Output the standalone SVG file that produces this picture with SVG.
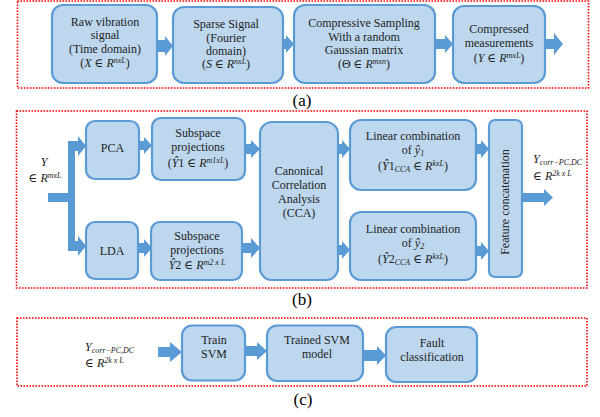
<svg xmlns="http://www.w3.org/2000/svg" width="600" height="417" viewBox="0 0 600 417" font-family="'Liberation Serif', serif">
<defs>
<style>
.panel{fill:none;stroke:#f00;stroke-width:1.6;stroke-dasharray:1.6 1.4}
.box{fill:#bdd7ee;stroke:#5b9bd5;stroke-width:2.2}
.arr{fill:#5b9bd5;stroke:none}
text{font-family:'Liberation Serif','DejaVu Serif',serif;font-size:12px;fill:#222;text-anchor:middle}
.m{font-style:italic}
.s{font-size:8px;font-style:italic}
.lab{font-size:17px;fill:#000}
.l{text-anchor:start}
</style>
</defs>
<rect width="600" height="417" fill="#fff"/>

<g id="panels">
<rect class="panel" x="17.5" y="1" width="571" height="87"/>
<rect class="panel" x="16.5" y="111" width="570.5" height="177"/>
<rect class="panel" x="17" y="318" width="570" height="68"/>
</g>

<g id="connectors">
<polygon class="arr" points="157,40 165,40 165,36 173,46 165,56 165,52 157,52"/>
<polygon class="arr" points="283,39 286,39 286,35 294,44 286,53 286,49 283,49"/>
<polygon class="arr" points="435,39 445,39 445,35 453,44 445,53 445,49 435,49"/>
<polygon class="arr" points="545,39 554,39 554,33 563,44 554,55 554,49 545,49"/>
<polygon class="arr" points="48,193 68,193 68,141 78,141 78,136 86,146 78,156 78,151 75,151 75,241 78,241 78,236 86,246 78,256 78,251 68,251 68,202 48,202"/>
<polygon class="arr" points="139,141 144,141 144,137 152,145.5 144,154 144,150 139,150"/>
<polygon class="arr" points="138,243 144,243 144,239 152,248 144,257 144,253 138,253"/>
<polygon class="arr" points="245,144 251,144 251,140 260,149 251,158 251,154 245,154"/>
<polygon class="arr" points="242,243 251,243 251,238 260,248 251,258 251,253 242,253"/>
<polygon class="arr" points="338,144 342,144 342,140 350,149 342,158 342,154 338,154"/>
<polygon class="arr" points="338,245 342,245 342,241 350,250 342,259 342,255 338,255"/>
<polygon class="arr" points="476,144 481,144 481,140 489,149 481,158 481,154 476,154"/>
<polygon class="arr" points="476,246 481,246 481,242 489,251 481,260 481,256 476,256"/>
<polygon class="arr" points="522,193 544,193 544,189 553,197.5 544,206 544,202 522,202"/>
<polygon class="arr" points="158,347 170,347 170,342 182,352 170,362 170,357 158,357"/>
<polygon class="arr" points="245,346 257,346 257,342 267,351 257,360 257,356 245,356"/>
<polygon class="arr" points="363,350 377,350 377,346 386,355.5 377,365 377,361 363,361"/>
</g>

<g id="raw">
<rect class="box" x="52" y="5" width="105" height="78" rx="11"/>
<text x="105" y="26">Raw vibration</text>
<text x="105" y="39">signal</text>
<text x="105" y="53">(Time domain)</text>
<text x="105" y="67">(<tspan class="m">X</tspan> ∈ <tspan class="m">R</tspan><tspan class="s" dy="-4">nxL</tspan><tspan dy="4">)</tspan></text>
</g>
<g id="sparse">
<rect class="box" x="173" y="7" width="110" height="76" rx="11"/>
<text x="226" y="28">Sparse Signal</text>
<text x="226" y="42">(Fourier</text>
<text x="226" y="55">domain)</text>
<text x="226" y="68">(<tspan class="m">S</tspan> ∈ <tspan class="m">R</tspan><tspan class="s" dy="-4">nxL</tspan><tspan dy="4">)</tspan></text>
</g>
<g id="cs">
<rect class="box" x="294" y="5" width="141" height="78" rx="11"/>
<text x="364" y="27">Compressive Sampling</text>
<text x="364" y="41">With a random</text>
<text x="364" y="54">Gaussian matrix</text>
<text x="364" y="68">(Θ ∈ <tspan class="m">R</tspan><tspan class="s" dy="-4">mxn</tspan><tspan dy="4">)</tspan></text>
</g>
<g id="cm">
<rect class="box" x="453" y="6" width="92" height="77" rx="11"/>
<text x="499" y="33">Compressed</text>
<text x="499" y="47">measurements</text>
<text x="499" y="62">(<tspan class="m">Y</tspan> ∈ <tspan class="m">R</tspan><tspan class="s" dy="-4">mxL</tspan><tspan dy="4">)</tspan></text>
</g>
<text class="lab" x="302" y="106">(a)</text>

<g id="yin">
<text class="m" x="44" y="166">Y</text>
<text x="45" y="182">∈ <tspan class="m">R</tspan><tspan class="s" dy="-4">mxL</tspan></text>
</g>
<g id="pca">
<rect class="box" x="86" y="121" width="53" height="58" rx="9"/>
<text x="112.5" y="152">PCA</text>
</g>
<g id="lda">
<rect class="box" x="86" y="222" width="52" height="57" rx="9"/>
<text x="112" y="255">LDA</text>
</g>
<g id="sub1">
<rect class="box" x="152" y="118" width="93" height="62" rx="9"/>
<text x="198" y="137">Subspace</text>
<text x="198" y="151">projections</text>
<text x="198" y="167">(<tspan class="m">Ŷ</tspan>1 ∈ <tspan class="m">R</tspan><tspan class="s" dy="-4">m1xL</tspan><tspan dy="4">)</tspan></text>
</g>
<g id="sub2">
<rect class="box" x="151" y="222" width="91" height="58" rx="9"/>
<text x="197" y="240">Subspace</text>
<text x="197" y="254">projections</text>
<text x="197" y="269"><tspan class="m">Ŷ</tspan>2 ∈ <tspan class="m">R</tspan><tspan class="s" dy="-4">m2 x L</tspan></text>
</g>
<g id="cca">
<rect class="box" x="260" y="122" width="78" height="158" rx="12"/>
<text x="299" y="175">Canonical</text>
<text x="299" y="189">Correlation</text>
<text x="299" y="203">Analysis</text>
<text x="299" y="217">(CCA)</text>
</g>
<g id="lc1">
<rect class="box" x="350" y="120" width="126" height="70" rx="11"/>
<text x="413" y="140">Linear combination</text>
<text x="413" y="154">of <tspan class="m">ŷ</tspan><tspan class="s" dy="2">1</tspan></text>
<text x="413" y="170">(<tspan class="m">Ŷ</tspan>1<tspan class="s" dy="2">CCA</tspan><tspan dy="-2"> ∈ </tspan><tspan class="m">R</tspan><tspan class="s" dy="-4">kxL</tspan><tspan dy="4">)</tspan></text>
</g>
<g id="lc2">
<rect class="box" x="350" y="212" width="126" height="68" rx="11"/>
<text x="413" y="233">Linear combination</text>
<text x="413" y="247">of <tspan class="m">ŷ</tspan><tspan class="s" dy="2">2</tspan></text>
<text x="413" y="263">(<tspan class="m">Ŷ</tspan>2<tspan class="s" dy="2">CCA</tspan><tspan dy="-2"> ∈ </tspan><tspan class="m">R</tspan><tspan class="s" dy="-4">kxL</tspan><tspan dy="4">)</tspan></text>
</g>
<g id="fc">
<rect class="box" x="489" y="120" width="33" height="157" rx="6"/>
<text x="0" y="0" transform="translate(509,202) rotate(-90)">Feature concatenation</text>
</g>
<g id="yout">
<text class="l" x="533" y="163"><tspan class="m">Y</tspan><tspan class="s" dy="2">corr−PC,DC</tspan></text>
<text class="l" x="533" y="180">∈ <tspan class="m">R</tspan><tspan class="s" dy="-4">2k x L</tspan></text>
</g>
<text class="lab" x="302" y="305">(b)</text>

<g id="yc">
<text class="l" x="85" y="351"><tspan class="m">Y</tspan><tspan class="s" dy="2">corr−PC,DC</tspan></text>
<text class="l" x="85" y="367">∈ <tspan class="m">R</tspan><tspan class="s" dy="-4">2k x L</tspan></text>
</g>
<g id="train">
<rect class="box" x="182" y="325.5" width="63" height="55" rx="10"/>
<text x="214" y="344">Train</text>
<text x="214" y="358">SVM</text>
</g>
<g id="trained">
<rect class="box" x="267" y="325.5" width="96" height="55.5" rx="10"/>
<text x="317" y="344">Trained SVM</text>
<text x="317" y="358">model</text>
</g>
<g id="fault">
<rect class="box" x="386" y="327" width="91" height="55" rx="10"/>
<text x="432" y="347">Fault</text>
<text x="432" y="361">classification</text>
</g>
<text class="lab" x="303" y="405">(c)</text>
</svg>
